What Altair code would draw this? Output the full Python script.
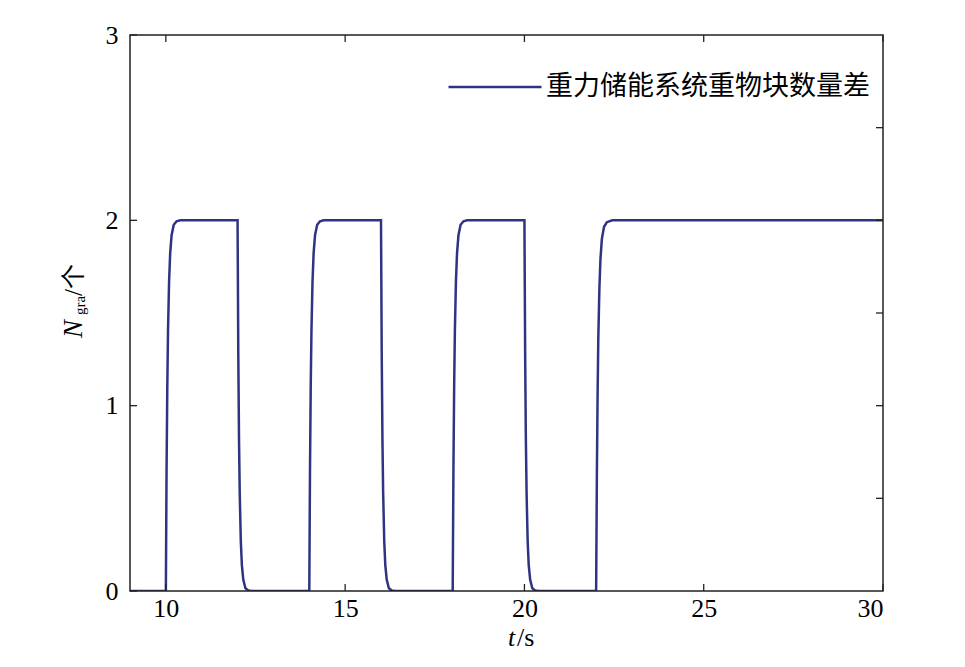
import altair as alt
import pandas as pd

# ---- data ----
t_vals = [
    9.0,
    10.00, 10.02, 10.04, 10.06, 10.09, 10.12, 10.16, 10.22, 10.30, 10.40,
    12.00, 12.02, 12.04, 12.06, 12.09, 12.12, 12.16, 12.22, 12.30, 12.40,
    14.00, 14.02, 14.04, 14.06, 14.09, 14.12, 14.16, 14.22, 14.30, 14.40,
    16.00, 16.02, 16.04, 16.06, 16.09, 16.12, 16.16, 16.22, 16.30, 16.40,
    18.00, 18.02, 18.04, 18.06, 18.09, 18.12, 18.16, 18.22, 18.30, 18.40,
    20.00, 20.02, 20.04, 20.06, 20.09, 20.12, 20.16, 20.22, 20.30, 20.40,
    22.00, 22.02, 22.04, 22.06, 22.09, 22.12, 22.16, 22.22, 22.30, 22.45,
    30.0,
]
n_vals = [
    0.0,
    0.0, 0.66, 1.10, 1.40, 1.67, 1.82, 1.92, 1.976, 1.995, 2.0,
    2.0, 1.28, 0.82, 0.53, 0.27, 0.14, 0.06, 0.015, 0.003, 0.0,
    0.0, 0.66, 1.10, 1.40, 1.67, 1.82, 1.92, 1.976, 1.995, 2.0,
    2.0, 1.28, 0.82, 0.53, 0.27, 0.14, 0.06, 0.015, 0.003, 0.0,
    0.0, 0.66, 1.10, 1.40, 1.67, 1.82, 1.92, 1.976, 1.995, 2.0,
    2.0, 1.28, 0.82, 0.53, 0.27, 0.14, 0.06, 0.015, 0.003, 0.0,
    0.0, 0.62, 1.05, 1.36, 1.63, 1.79, 1.90, 1.965, 1.99, 2.0,
    2.0,
]
series_name = "重力储能系统重物块数量差"
x_ticks = [10, 15, 20, 25, 30]
y_ticks_left = [0, 1, 2, 3]
y_ticks_right = [0.5, 1, 1.5, 2, 2.5]

line_color = "#2e3482"
frame_color = "#222222"
W, H = 753, 556
TL = 7  # tick length

df = pd.DataFrame({"t": t_vals, "n": n_vals, "series": [series_name] * len(t_vals)})

xscale = alt.Scale(domain=[9, 30], nice=False, zero=False)
yscale = alt.Scale(domain=[0, 3], nice=False, zero=False)

x_axis = alt.Axis(values=x_ticks, tickSize=0, domain=False, grid=False,
                  labelFont="Liberation Serif", labelFontSize=26,
                  labelColor="black", labelPadding=4, title=None, format="d")
y_axis = alt.Axis(values=y_ticks_left, tickSize=0, domain=False, grid=False,
                  labelFont="Liberation Serif", labelFontSize=26,
                  labelColor="black", labelPadding=12, title=None, format="d")

line = alt.Chart(df).mark_line(strokeWidth=2.5, clip=True).encode(
    x=alt.X("t:Q", scale=xscale, axis=x_axis),
    y=alt.Y("n:Q", scale=yscale, axis=y_axis),
    color=alt.Color("series:N",
                    scale=alt.Scale(domain=[series_name], range=[line_color]),
                    legend=alt.Legend(orient="none", legendX=317, legendY=4,
                                      title=None, symbolType="stroke",
                                      symbolSize=8649, symbolStrokeWidth=2.5,
                                      labelFont="Noto Sans CJK SC",
                                      labelFontSize=27, labelColor="black",
                                      labelLimit=0, labelOffset=3, padding=0)),
)

frame = alt.Chart(pd.DataFrame({"v": [0]})).mark_rect(
    filled=False, stroke=frame_color, strokeWidth=1.5).encode(
    x=alt.value(0), x2=alt.value(W), y=alt.value(0), y2=alt.value(H))

xt = pd.DataFrame({"t": x_ticks})
bottom_ticks = alt.Chart(xt).mark_rule(color=frame_color, strokeWidth=1.3).encode(
    x=alt.X("t:Q", scale=xscale, axis=x_axis), y=alt.value(H), y2=alt.value(H - TL))
top_ticks = alt.Chart(xt).mark_rule(color=frame_color, strokeWidth=1.3).encode(
    x=alt.X("t:Q", scale=xscale, axis=x_axis), y=alt.value(0), y2=alt.value(TL))
left_ticks = alt.Chart(pd.DataFrame({"n": y_ticks_left})).mark_rule(
    color=frame_color, strokeWidth=1.3).encode(
    y=alt.Y("n:Q", scale=yscale, axis=y_axis), x=alt.value(0), x2=alt.value(TL))
right_ticks = alt.Chart(pd.DataFrame({"n": y_ticks_right})).mark_rule(
    color=frame_color, strokeWidth=1.3).encode(
    y=alt.Y("n:Q", scale=yscale, axis=y_axis), x=alt.value(W), x2=alt.value(W - TL))

# axis titles as text pieces (italic variable, subscript)
def txt(s, **kw):
    return alt.Chart(pd.DataFrame({"s": [s]})).mark_text(**kw)

x_title_t = txt("t", font="Liberation Serif", fontStyle="italic", fontSize=26,
                align="left", baseline="alphabetic", color="black").encode(
    text="s:N", x=alt.value(378), y=alt.value(611))
x_title_s = txt("/s", font="Liberation Serif", fontSize=26,
                align="left", baseline="alphabetic", color="black").encode(
    text="s:N", x=alt.value(387), y=alt.value(611))

y_title_n = txt("N", font="Liberation Serif", fontStyle="italic", fontSize=27,
                angle=270, align="left", baseline="alphabetic", color="black").encode(
    text="s:N", x=alt.value(-48), y=alt.value(303))
y_title_sub = txt("gra", font="Liberation Serif", fontSize=15,
                  angle=270, align="left", baseline="alphabetic", color="black").encode(
    text="s:N", x=alt.value(-45), y=alt.value(280))
y_title_unit = txt("/个", font="Liberation Serif, Noto Sans CJK SC", fontSize=25,
                   angle=270, align="left", baseline="alphabetic", color="black").encode(
    text="s:N", x=alt.value(-48), y=alt.value(261))

chart = alt.layer(
    line, frame, bottom_ticks, top_ticks, left_ticks, right_ticks,
    x_title_t, x_title_s, y_title_n, y_title_sub, y_title_unit,
).properties(
    width=W, height=H,
    background="white",
    autosize=alt.AutoSizeParams(type="none"),
    padding={"left": 122, "top": 27, "right": 10, "bottom": 60},
).configure_view(
    stroke=None,
)

chart.save("out.html", embed_options={"renderer": "svg", "actions": False})
